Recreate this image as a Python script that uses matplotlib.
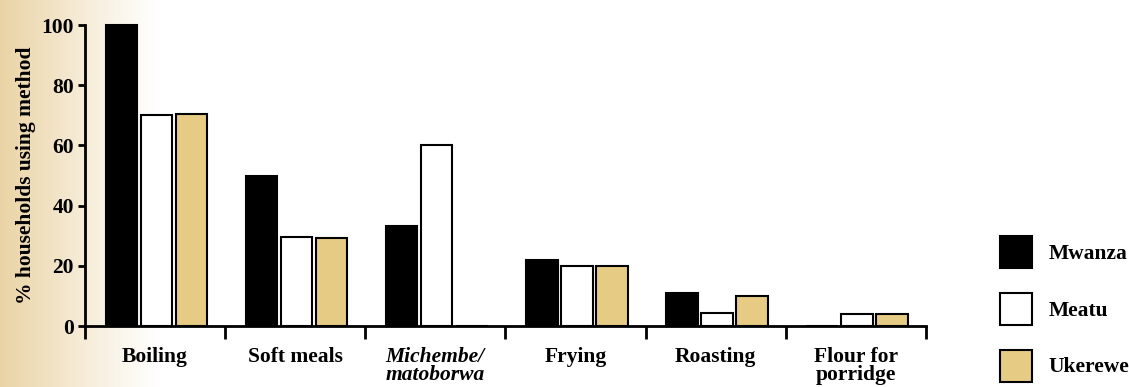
import numpy as np
import matplotlib
matplotlib.use('Agg')
from matplotlib import pyplot as plt
from matplotlib.patches import Patch

methods = ['Boiling', 'Soft meals', 'Michembe/\nmatoborwa', 'Frying', 'Roasting', 'Flour for\nporridge']
mwanza = [100, 50, 33.3, 22, 11, 0]
meatu = [70, 29.5, 60, 20, 4.3, 4]
ukerewe = [70.3, 29.3, 0, 20, 10, 4]
regions = ['Mwanza', 'Meatu', 'Ukerewe']
colors = ['black', 'white', '#e6cb84']

plt.rcParams['font.family'] = ['Liberation Serif', 'DejaVu Serif']
plt.rcParams['font.weight'] = 'bold'
fs = 15.5

fig = plt.figure(figsize=(11.29, 3.87), dpi=100)

# parchment-ish fade on the left edge
bg = fig.add_axes([0, 0, 1, 1], zorder=-10)
xs = np.linspace(0, 1, 400)
fade = np.clip(1 - xs / 0.14, 0, 1) ** 1.1
tan = np.array([0.92, 0.83, 0.65])
img = np.ones((2, 400, 3)) - fade[None, :, None] * (1 - tan)[None, None, :]
bg.imshow(img, aspect='auto', extent=[0, 1, 0, 1])
bg.axis('off')

ax = fig.add_axes([0.0753, 0.1576, 0.7447, 0.7778])
ax.patch.set_alpha(0)

x = np.arange(len(methods))
series = [mwanza, meatu, ukerewe]
for k, vals in enumerate(series):
    ax.bar(x + 0.26 + 0.25 * k, vals, width=0.225, color=colors[k],
           edgecolor='black', linewidth=1.5, label=regions[k], clip_on=False)

ax.set_xlim(0, 6)
ax.set_ylim(0, 100)
ax.set_yticks([0, 20, 40, 60, 80, 100])
ax.set_xticks(np.arange(0, 7))
ax.set_xticklabels([])
ax.set_xticks(x + 0.5, minor=True)
ax.set_xticklabels(methods, minor=True, fontsize=fs, fontweight='bold', linespacing=0.9)
ax.get_xticklabels(minor=True)[2].set_fontstyle('italic')
ax.tick_params(axis='x', which='minor', length=0, pad=15)
ax.tick_params(axis='x', which='major', direction='out', length=9, width=2)
ax.tick_params(axis='y', direction='out', length=5, width=2, labelsize=fs, pad=3)
for lab in ax.get_yticklabels():
    lab.set_fontweight('bold')

for s in ['top', 'right']:
    ax.spines[s].set_visible(False)
ax.spines['left'].set_linewidth(2)
ax.spines['bottom'].set_linewidth(2)

ax.set_ylabel('% households using method', fontsize=fs, fontweight='bold', labelpad=4)

handles = [Patch(facecolor=colors[k], edgecolor='black', linewidth=1.5, label=regions[k]) for k in range(3)]
fig.legend(handles=handles, loc='upper left', bbox_to_anchor=(1000 / 1129, 1 - 236 / 387),
           frameon=False, handlelength=1.49, handleheight=1.91,
           labelspacing=1.15, handletextpad=0.75, borderpad=0, borderaxespad=0,
           prop={'weight': 'bold', 'size': fs})

fig.savefig('out.png', dpi=100)
